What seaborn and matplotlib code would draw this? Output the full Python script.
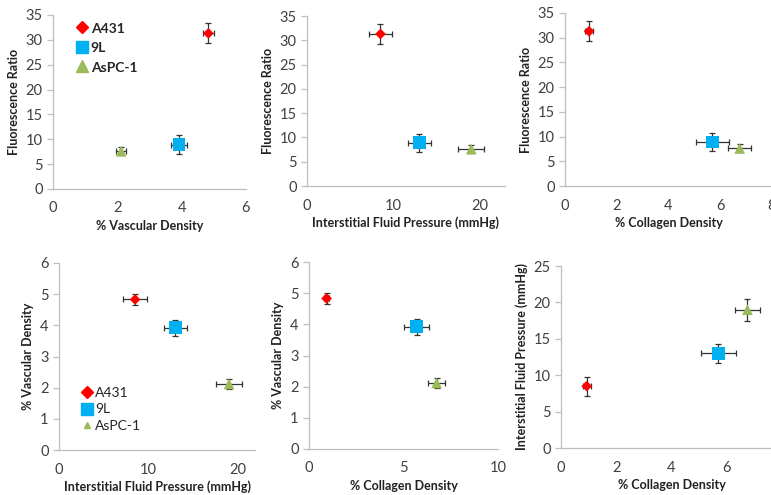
import pandas as pd
import matplotlib
matplotlib.use("Agg")
import matplotlib.pyplot as plt
from matplotlib.lines import Line2D
import seaborn as sns

# --- Datos ---
cell_lines = ["A431", "9L", "AsPC-1"]
fluor_ratio = [31.3, 8.9, 7.6]
fluor_err = [2.0, 1.9, 0.8]
vasc_density = [4.83, 3.92, 2.12]
vasc_err = [0.18, 0.25, 0.16]
ifp = [8.5, 13.0, 19.0]
ifp_err = [1.3, 1.3, 1.5]
collagen = [0.93, 5.7, 6.75]
collagen_err = [0.15, 0.65, 0.45]

df = pd.DataFrame({
    "cell": cell_lines,
    "fluor": fluor_ratio, "fluor_err": fluor_err,
    "vasc": vasc_density, "vasc_err": vasc_err,
    "ifp": ifp, "ifp_err": ifp_err,
    "coll": collagen, "coll_err": collagen_err,
})

colors = {"A431": "#FF0000", "9L": "#00B0F0", "AsPC-1": "#9BBB59"}
markers = {"A431": "D", "9L": "s", "AsPC-1": "^"}
sizes = {"A431": 30, "9L": 85, "AsPC-1": 60}

labels = {
    "fluor": "Fluorescence Ratio",
    "vasc": "% Vascular Density",
    "ifp": "Interstitial Fluid Pressure (mmHg)",
    "coll": "% Collagen Density",
}

sns.set_theme(style="white")
plt.rcParams["font.family"] = ["Lato", "DejaVu Sans"]

W, H = 771, 495
fig = plt.figure(figsize=(W / 100, H / 100), dpi=100)

# (x, y, rect en pixeles [left, top, right, bottom], xlim, ylim, xticks, yticks)
panels = [
    ("vasc", "fluor", (53, 15, 246, 189), (0, 6), (0, 35), [0, 2, 4, 6], range(0, 36, 5)),
    ("ifp", "fluor", (307, 16, 505, 186), (0, 22.9), (0, 35), [0, 10, 20], range(0, 36, 5)),
    ("coll", "fluor", (565, 13, 772, 186), (0, 8), (0, 35), [0, 2, 4, 6, 8], range(0, 36, 5)),
    ("ifp", "vasc", (59, 263, 255, 450), (0, 21.9), (0, 6), [0, 10, 20], range(0, 7)),
    ("coll", "vasc", (309, 262, 498, 449), (0, 10), (0, 6), [0, 5, 10], range(0, 7)),
    ("coll", "ifp", (561, 266, 782, 448), (0, 8), (0, 25), [0, 2, 4, 6], range(0, 26, 5)),
]

axes = []
for xcol, ycol, (l, t, r, b), xlim, ylim, xt, yt in panels:
    ax = fig.add_axes([l / W, (H - b) / H, (r - l) / W, (b - t) / H])
    ax.errorbar(df[xcol], df[ycol], xerr=df[xcol + "_err"], yerr=df[ycol + "_err"],
                fmt="none", ecolor="#333333", elinewidth=0.9, capsize=2,
                capthick=0.9, zorder=2)
    sns.scatterplot(data=df, x=xcol, y=ycol, hue="cell", style="cell",
                    size="cell", sizes=sizes, palette=colors, markers=markers,
                    linewidth=0, legend=False, zorder=3, ax=ax)
    ax.set_xlim(*xlim)
    ax.set_ylim(*ylim)
    ax.set_xticks(xt)
    ax.set_yticks(list(yt))
    ax.set_xlabel(labels[xcol], fontsize=9, fontweight="bold", color="#222222", labelpad=3)
    ax.set_ylabel(labels[ycol], fontsize=9, fontweight="bold", color="#222222", labelpad=4)
    for side in ["top", "right"]:
        ax.spines[side].set_visible(False)
    for side in ["left", "bottom"]:
        ax.spines[side].set_color("#BFBFBF")
        ax.spines[side].set_linewidth(0.9)
    ax.tick_params(axis="both", labelsize=10.5, colors="#BFBFBF", labelcolor="#404040",
                   length=4, width=0.9, direction="out", left=True, bottom=False)
    ax.tick_params(axis="x", pad=5)
    axes.append(ax)

# Leyendas
def handles(tri_size):
    ms = {"A431": 6, "9L": 8, "AsPC-1": tri_size}
    return [Line2D([], [], linestyle="none", marker=markers[c], color=colors[c],
                   markersize=ms[c], label=c) for c in cell_lines]

leg1 = axes[0].legend(handles=handles(8), loc="upper left", bbox_to_anchor=(0.08, 0.995),
                      frameon=False, handletextpad=0.05, labelspacing=0.45,
                      handlelength=1.0, borderaxespad=0)
for txt in leg1.get_texts():
    txt.set_fontweight("bold")
    txt.set_fontsize(10)

leg2 = axes[3].legend(handles=handles(4), loc="lower left", bbox_to_anchor=(0.08, 0.065),
                      frameon=False, handletextpad=0.05, labelspacing=0.35,
                      handlelength=1.0, borderaxespad=0, fontsize=10)

fig.savefig("out.png", dpi=100)
